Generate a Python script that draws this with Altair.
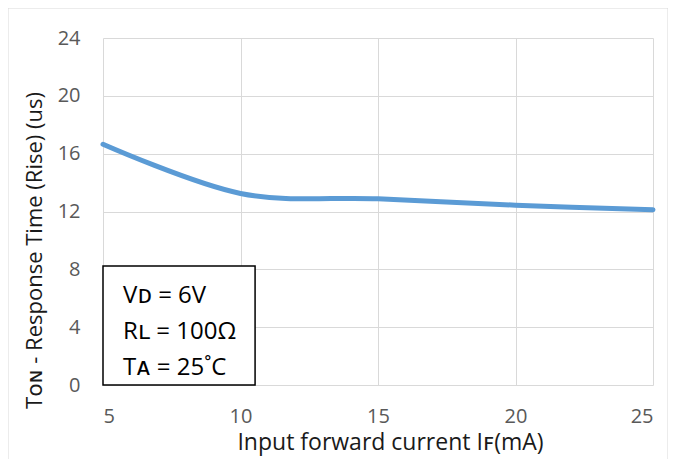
import altair as alt
import pandas as pd

# Data
current_ma = [5, 10, 15, 20, 25]
t_on_us = [16.65, 13.25, 12.88, 12.44, 12.12]

x_ticks = [5, 10, 15, 20, 25]
y_ticks = list(range(0, 25, 2))

box_lines = ["V\u1d05 = 6V", "R\u029f = 100\u03a9", "T\u1d00 = 25\u02daC"]
box_line_y = [5.67, 3.18, 0.69]

FONT = "Open Sans, DejaVu Sans, sans-serif"

df = pd.DataFrame({"x": current_ma, "y": t_on_us})
box_df = pd.DataFrame({"x": [5.0], "x2": [10.53], "y": [0.0], "y2": [8.23]})
txt_df = pd.DataFrame({"t": box_lines, "y": box_line_y, "x": [5.73] * 3})

xs = alt.Scale(domain=[5, 25], nice=False)
ys = alt.Scale(domain=[0, 24], nice=False)

line = alt.Chart(df).mark_line(
    color="#5B9BD5", strokeWidth=5, interpolate="cardinal", strokeCap="round"
).encode(
    x=alt.X("x:Q", scale=xs, axis=alt.Axis(
        values=x_ticks, title="Input forward current I\ua730(mA)",
        labelFontSize=20, labelColor="#595959", labelPadding=21,
        ticks=False, domain=False, gridColor="#D9D9D9",
        titleFontSize=23, titleFontWeight="normal", titleColor="#1a1a1a",
        titleX=287, titleY=64, titleBaseline="alphabetic", titleAlign="center",
        labelFont=FONT, titleFont=FONT)),
    y=alt.Y("y:Q", scale=ys, axis=alt.Axis(
        values=y_ticks, title="T\u1d0f\u0274 - Response Time (Rise) (us)",
        labelExpr="datum.value % 4 == 0 ? datum.label : ''",
        labelFontSize=20, labelColor="#595959", labelPadding=23,
        ticks=False, domain=False,
        gridColor={"condition": {"test": "datum.value % 4 == 0", "value": "#D9D9D9"}, "value": "#F0F0F0"},
        titleFontSize=22, titleFontWeight="normal", titleColor="#1a1a1a",
        titleX=-62, titleY=212, titleBaseline="alphabetic", titleAlign="center",
        titleAngle=270, labelFont=FONT, titleFont=FONT)),
)

box = alt.Chart(box_df).mark_rect(fill="white", stroke="black", strokeWidth=1.5).encode(
    x="x:Q", x2="x2:Q", y="y:Q", y2="y2:Q"
)

txt = alt.Chart(txt_df).mark_text(
    align="left", baseline="alphabetic", fontSize=24, font=FONT, color="#000000"
).encode(x="x:Q", y="y:Q", text="t:N")

frame = alt.Chart(box_df).mark_rect(fill=None, stroke="#D9D9D9", strokeWidth=1).encode(
    x=alt.value(-95), x2=alt.value(565), y=alt.value(-30), y2=alt.value(520)
)

chart = alt.layer(frame, line, box, txt).properties(
    width=550, height=347,
    padding={"left": 95, "top": 30, "right": 15, "bottom": 74},
    autosize=alt.AutoSizeParams(type="none"),
    background="white",
).configure_view(stroke=None)

chart.save("out.html", embed_options={"renderer": "svg", "actions": False})
